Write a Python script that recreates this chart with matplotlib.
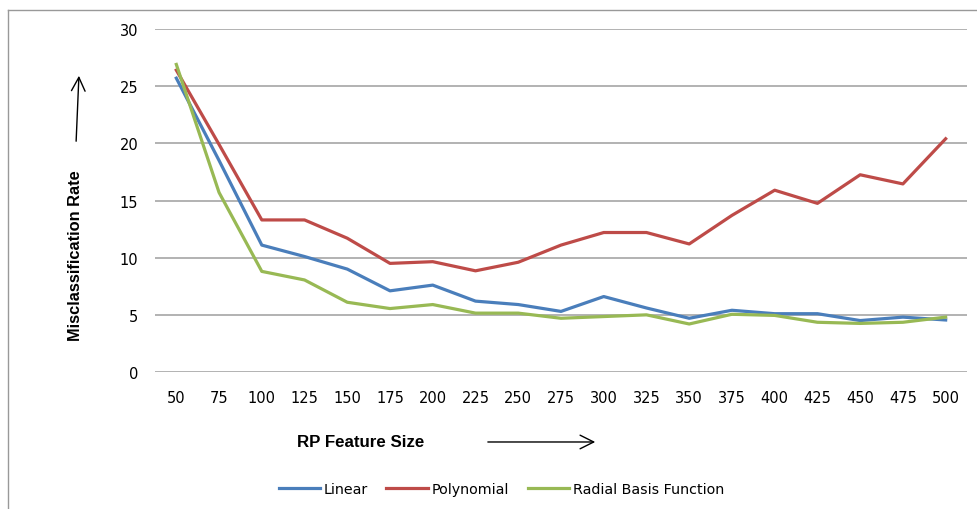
import matplotlib
matplotlib.use("Agg")
import matplotlib.pyplot as plt
from matplotlib.lines import Line2D
from matplotlib.patches import FancyArrowPatch
import numpy as np

feature_size = [50, 75, 100, 125, 150, 175, 200, 225, 250, 275,
                300, 325, 350, 375, 400, 425, 450, 475, 500]
linear = [25.7, 18.5, 11.1, 10.1, 9.0, 7.1, 7.6, 6.2, 5.9, 5.3,
          6.6, 5.6, 4.7, 5.4, 5.1, 5.1, 4.5, 4.8, 4.55]
polynomial = [26.4, 19.9, 13.3, 13.3, 11.7, 9.5, 9.65, 8.85, 9.6, 11.1,
              12.2, 12.2, 11.2, 13.7, 15.9, 14.75, 17.25, 16.45, 20.4]
rbf = [26.9, 15.7, 8.8, 8.05, 6.1, 5.55, 5.9, 5.15, 5.15, 4.7,
       4.85, 5.0, 4.2, 5.05, 4.95, 4.35, 4.25, 4.35, 4.8]

colors = ["#4a7ebb", "#be4b48", "#98b954"]

fig = plt.figure(figsize=(9.77, 5.1), dpi=100)
ax = fig.add_axes([0.1586, 0.2686, 0.8312, 0.6726])

idx = np.arange(len(feature_size))
ax.plot(idx, linear, color=colors[0], lw=2.3, label="Linear", zorder=3)
ax.plot(idx, polynomial, color=colors[1], lw=2.3, label="Polynomial", zorder=3)
ax.plot(idx, rbf, color=colors[2], lw=2.3, label="Radial Basis Function", zorder=4)

ax.set_xlim(-0.5, len(feature_size) - 0.5)
ax.set_ylim(0, 30)
ax.set_yticks(range(0, 31, 5))
ax.set_xticks(idx)
ax.set_xticklabels([str(v) for v in feature_size])
ax.grid(axis="y", color="#a6a6a6", lw=1.2)
ax.set_axisbelow(True)
for s in ax.spines.values():
    s.set_visible(False)
ax.tick_params(length=0, labelsize=10.5, colors="black")
ax.tick_params(axis="y", pad=12)
ax.tick_params(axis="x", pad=13)

# axis titles with direction arrows
fig.text(0.0775, 0.498, "Misclassification Rate", rotation=90, ha="center",
         va="center", fontsize=11.8, fontweight="bold", family="Liberation Sans")
fig.text(0.369, 0.1314, "RP Feature Size", ha="center", va="center",
         fontsize=12.2, fontweight="bold", family="Liberation Sans")
arrow = "->,head_length=0.7,head_width=0.35"
fig.add_artist(FancyArrowPatch(
    (0.0778, 0.7157), (0.0809, 0.8549), transform=fig.transFigure,
    arrowstyle=arrow, mutation_scale=14, lw=1.0, color="black"))
fig.add_artist(FancyArrowPatch(
    (0.4965, 0.1314), (0.6121, 0.1314), transform=fig.transFigure,
    arrowstyle=arrow, mutation_scale=14, lw=1.0, color="black"))

# chart area border (top and left only)
fig.add_artist(Line2D([0.0082, 0.0082], [0.0, 0.9784], color="#999999", lw=1.0))
fig.add_artist(Line2D([0.0082, 1.0], [0.9784, 0.9784], color="#999999", lw=1.0))

fig.legend(loc="center", bbox_to_anchor=(0.513, 0.039), ncol=3, frameon=False,
           fontsize=10.3, handlelength=2.9, handletextpad=0.25, columnspacing=1.3)

fig.savefig("out.png", dpi=100)
